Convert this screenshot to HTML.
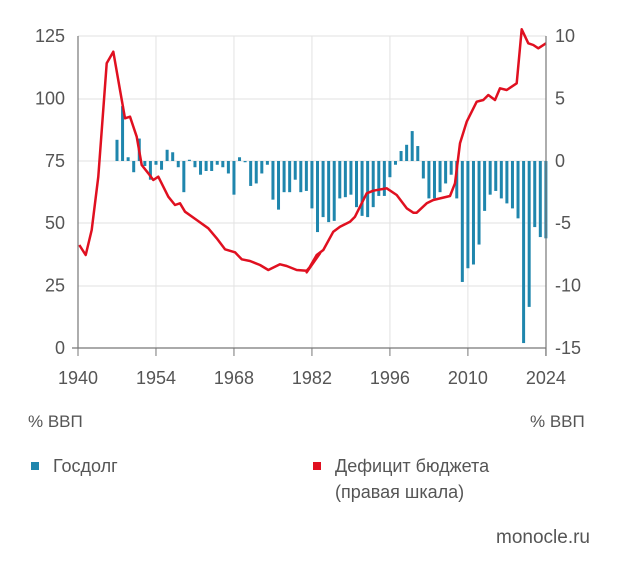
<!DOCTYPE html>
<html><head><meta charset="utf-8"><style>
body{margin:0;background:#fff;width:620px;height:573px;overflow:hidden;font-family:"Liberation Sans","DejaVu Sans",sans-serif}
svg text{font-family:"Liberation Sans","DejaVu Sans",sans-serif;fill:#555;font-size:18px}
</style></head><body>
<svg id="s" width="620" height="573" xmlns="http://www.w3.org/2000/svg">
<g id="grid" stroke="#e2e2e2" stroke-width="1"></g>
<g id="bars" fill="#1f86ad"></g>
<polyline id="line" fill="none" stroke="#e01020" stroke-width="2.5" stroke-linejoin="round"/>
<g stroke="#777" stroke-width="1.2">
<line x1="78" y1="36" x2="78" y2="348"/><line x1="546" y1="36" x2="546" y2="356"/><line x1="72" y1="348" x2="546" y2="348"/>
</g>
<g id="ticks" stroke="#777"></g>
<g id="lbl"></g>
<text x="28" y="427" style="font-size:17px">% ВВП</text>
<text x="530" y="427" style="font-size:17px">% ВВП</text>
<rect x="31" y="462" width="8" height="8" fill="#1f86ad"/>
<text x="53" y="472">Госдолг</text>
<rect x="313" y="462" width="8" height="8" fill="#e01020"/>
<text x="335" y="472">Дефицит бюджета</text>
<text x="335" y="498">(правая шкала)</text>
<text x="590" y="543" text-anchor="end" style="font-size:19px">monocle.ru</text>
</svg>
<script>
var NS="http://www.w3.org/2000/svg";
function el(p,t,a,txt){var e=document.createElementNS(NS,t);for(var k in a)e.setAttribute(k,a[k]);if(txt)e.textContent=txt;document.getElementById(p).appendChild(e);}
function X(y){return 78+(y-1940)*5.57;}
function YR(v){return 161-v*12.47;}
var g=[36,99,161,223,286];
g.forEach(function(y){el("grid","line",{x1:78,x2:546,y1:y,y2:y});});
[1954,1968,1982,1996,2010].forEach(function(y){el("grid","line",{x1:X(y),x2:X(y),y1:36,y2:348});});
var L=["125","100","75","50","25","0"],R=["10","5","0","-5","-10","-15"];
for(var i=0;i<6;i++){var y=36+i*62.4;el("lbl","text",{x:65,y:y+6,"text-anchor":"end"},L[i]);el("lbl","text",{x:555,y:y+6},R[i]);}
[1940,1954,1968,1982,1996,2010,2024].forEach(function(y){el("ticks","line",{x1:X(y),x2:X(y),y1:348,y2:356});el("lbl","text",{x:X(y),y:384,"text-anchor":"middle"},""+y);});
var b={1947:1.7,1948:4.4,1949:0.3,1950:-0.9,1951:1.8,1952:-0.4,1953:-1.5,1954:-0.3,1955:-0.7,1956:0.9,1957:0.7,1958:-0.5,1959:-2.5,1960:0.1,1961:-0.5,1962:-1.1,1963:-0.8,1964:-0.8,1965:-0.3,1966:-0.5,1967:-1.0,1968:-2.7,1969:0.3,1970:-0.1,1971:-2.0,1972:-1.8,1973:-1.0,1974:-0.3,1975:-3.1,1976:-3.9,1977:-2.5,1978:-2.5,1979:-1.5,1980:-2.5,1981:-2.4,1982:-3.8,1983:-5.7,1984:-4.5,1985:-4.9,1986:-4.8,1987:-3.0,1988:-2.9,1989:-2.7,1990:-3.7,1991:-4.4,1992:-4.5,1993:-3.7,1994:-2.8,1995:-2.8,1996:-1.3,1997:-0.3,1998:0.8,1999:1.3,2000:2.4,2001:1.2,2002:-1.4,2003:-3.0,2004:-3.0,2005:-2.5,2006:-1.8,2007:-1.1,2008:-3.0,2009:-9.7,2010:-8.6,2011:-8.3,2012:-6.7,2013:-4.0,2014:-2.7,2015:-2.4,2016:-3.0,2017:-3.4,2018:-3.8,2019:-4.6,2020:-14.6,2021:-11.7,2022:-5.3,2023:-6.1,2024:-6.2};
for(var yr in b){var v=b[yr],y0=YR(0),y1=YR(v);el("bars","rect",{x:X(+yr)-1.5,width:3,y:Math.min(y0,y1),height:Math.max(1,Math.abs(y1-y0))});}
var z1=[[58,675],[77,705],[95,630],[115,470],[140,130],[160,95],[180,210],[195,295],[210,290],[230,350],[245,435],[265,460],[280,480],[295,470],[325,530],[345,555],[360,550],[375,575],[410,600],[445,625],[470,655],[495,688],[525,697],[545,718],[570,723],[600,735],[625,750],[660,733],[680,738],[710,750],[740,752],[755,735],[780,700]];
var z2=[[20,757],[50,705],[70,690],[100,635],[120,620],[150,605],[165,590],[200,520],[220,512],[260,505],[290,525],[320,565],[340,578],[350,578],[380,550],[400,540],[450,528],[465,490],[480,370],[500,305],[530,245],[550,240],[565,225],[585,240],[600,205],[620,210],[650,190],[665,28],[685,70],[700,75],[715,85],[738,70]];
var pts=z1.map(function(p){return (p[0]/3+60).toFixed(1)+","+(p[1]/3+20).toFixed(1);}).concat(z2.map(function(p){return (p[0]/3+300).toFixed(1)+","+(p[1]/3+20).toFixed(1);}));
document.getElementById("line").setAttribute("points",pts.join(" "));
</script>
</body></html>
